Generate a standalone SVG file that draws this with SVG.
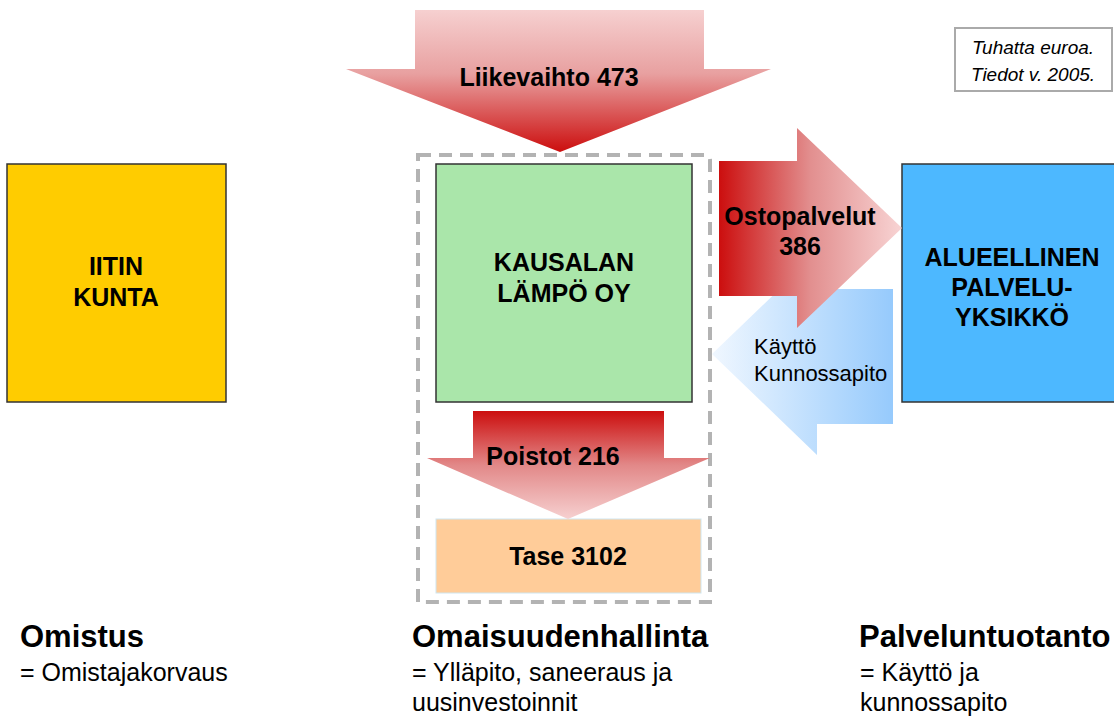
<svg xmlns="http://www.w3.org/2000/svg" width="1114" height="716" viewBox="0 0 1114 716">
<defs>
<linearGradient id="gDown" x1="0" y1="0" x2="0" y2="1">
<stop offset="0" stop-color="#f6d0d0"/>
<stop offset="0.45" stop-color="#e8a0a0"/>
<stop offset="1" stop-color="#cc0e0e"/>
</linearGradient>
<linearGradient id="gDown2" x1="0" y1="0" x2="0" y2="1">
<stop offset="0" stop-color="#cc0e0e"/>
<stop offset="0.5" stop-color="#e28888"/>
<stop offset="1" stop-color="#f6d0d0"/>
</linearGradient>
<linearGradient id="gRight" x1="0" y1="0" x2="1" y2="0">
<stop offset="0" stop-color="#cc0e0e"/>
<stop offset="0.5" stop-color="#e28f8f"/>
<stop offset="1" stop-color="#f8d4d4"/>
</linearGradient>
<linearGradient id="gLeft" x1="0" y1="0" x2="1" y2="0">
<stop offset="0" stop-color="#f0f7ff"/>
<stop offset="1" stop-color="#96cafc"/>
</linearGradient>
</defs>
<style>
.box{stroke:#333;stroke-width:1.5}
.lbl{font-family:"Liberation Sans",Arial,sans-serif;font-weight:bold;font-size:25px;fill:#000;text-anchor:middle}
.reg{font-family:"Liberation Sans",Arial,sans-serif;font-size:22px;fill:#000}
.title{font-family:"Liberation Sans",Arial,sans-serif;font-weight:bold;font-size:31px;fill:#000}
.sub{font-family:"Liberation Sans",Arial,sans-serif;font-size:25px;fill:#000}
.note{font-family:"Liberation Sans",Arial,sans-serif;font-style:italic;font-size:19px;fill:#000;text-anchor:middle}
</style>
<rect width="1114" height="716" fill="#fff"/>

<g id="omaisuus-frame">
<path d="M418,155 H705 Q710,155 710,160 V602 H418 Z" fill="none" stroke="#b3b3b3" stroke-width="4" stroke-dasharray="13 8"/>
</g>

<g id="iitin-kunta">
<rect class="box" x="7" y="164" width="219" height="238" fill="#ffcc00"/>
<text class="lbl" x="116" y="275">IITIN</text>
<text class="lbl" x="116" y="306">KUNTA</text>
</g>

<g id="kausalan-lampo">
<rect class="box" x="436" y="164" width="256" height="238" fill="#aae6aa"/>
<text class="lbl" x="564" y="271">KAUSALAN</text>
<text class="lbl" x="564" y="302">LÄMPÖ OY</text>
</g>

<g id="alueellinen">
<rect class="box" x="902" y="164" width="230" height="238" fill="#4db8ff"/>
<text class="lbl" x="1012" y="266">ALUEELLINEN</text>
<text class="lbl" x="1012" y="296">PALVELU-</text>
<text class="lbl" x="1012" y="326">YKSIKKÖ</text>
</g>

<g id="tase">
<rect x="436" y="519" width="265" height="74" fill="#ffcc99" stroke="#cfe6ef" stroke-width="1"/>
<text class="lbl" x="568" y="565">Tase 3102</text>
</g>

<g id="connectors">
<g id="liikevaihto">
<polygon points="415,10 704,10 704,69 771,69 560,152 346,69 415,69" fill="url(#gDown)"/>
<text class="lbl" x="549" y="86">Liikevaihto 473</text>
</g>
<g id="kaytto">
<polygon points="893,289 893,424 817,424 817,455 712,354 817,253 817,289" fill="url(#gLeft)"/>
<text class="reg" x="754" y="354">Käyttö</text>
<text class="reg" x="754" y="381">Kunnossapito</text>
</g>
<g id="ostopalvelut">
<polygon points="719,161 797,161 797,128 902,228 797,328 797,296 719,296" fill="url(#gRight)"/>
<text class="lbl" x="800" y="225">Ostopalvelut</text>
<text class="lbl" x="800" y="255">386</text>
</g>
<g id="poistot">
<polygon points="473,411 664,411 664,458 710,458 568,519 427,458 473,458" fill="url(#gDown2)"/>
<text class="lbl" x="553" y="465">Poistot 216</text>
</g>
</g>

<g id="legend">
<rect x="955" y="28" width="157" height="63" fill="#fff" stroke="#aaa" stroke-width="2"/>
<text class="note" x="1033" y="54">Tuhatta euroa.</text>
<text class="note" x="1033" y="81">Tiedot v. 2005.</text>
</g>

<g id="caption-omistus">
<text class="title" x="20" y="647">Omistus</text>
<text class="sub" x="20" y="681">= Omistajakorvaus</text>
</g>
<g id="caption-omaisuudenhallinta">
<text class="title" x="412" y="647">Omaisuudenhallinta</text>
<text class="sub" x="412" y="681">= Ylläpito, saneeraus ja</text>
<text class="sub" x="412" y="711">uusinvestoinnit</text>
</g>
<g id="caption-palveluntuotanto">
<text class="title" x="859" y="647">Palveluntuotanto</text>
<text class="sub" x="860" y="681">= Käyttö ja</text>
<text class="sub" x="860" y="711">kunnossapito</text>
</g>
</svg>
